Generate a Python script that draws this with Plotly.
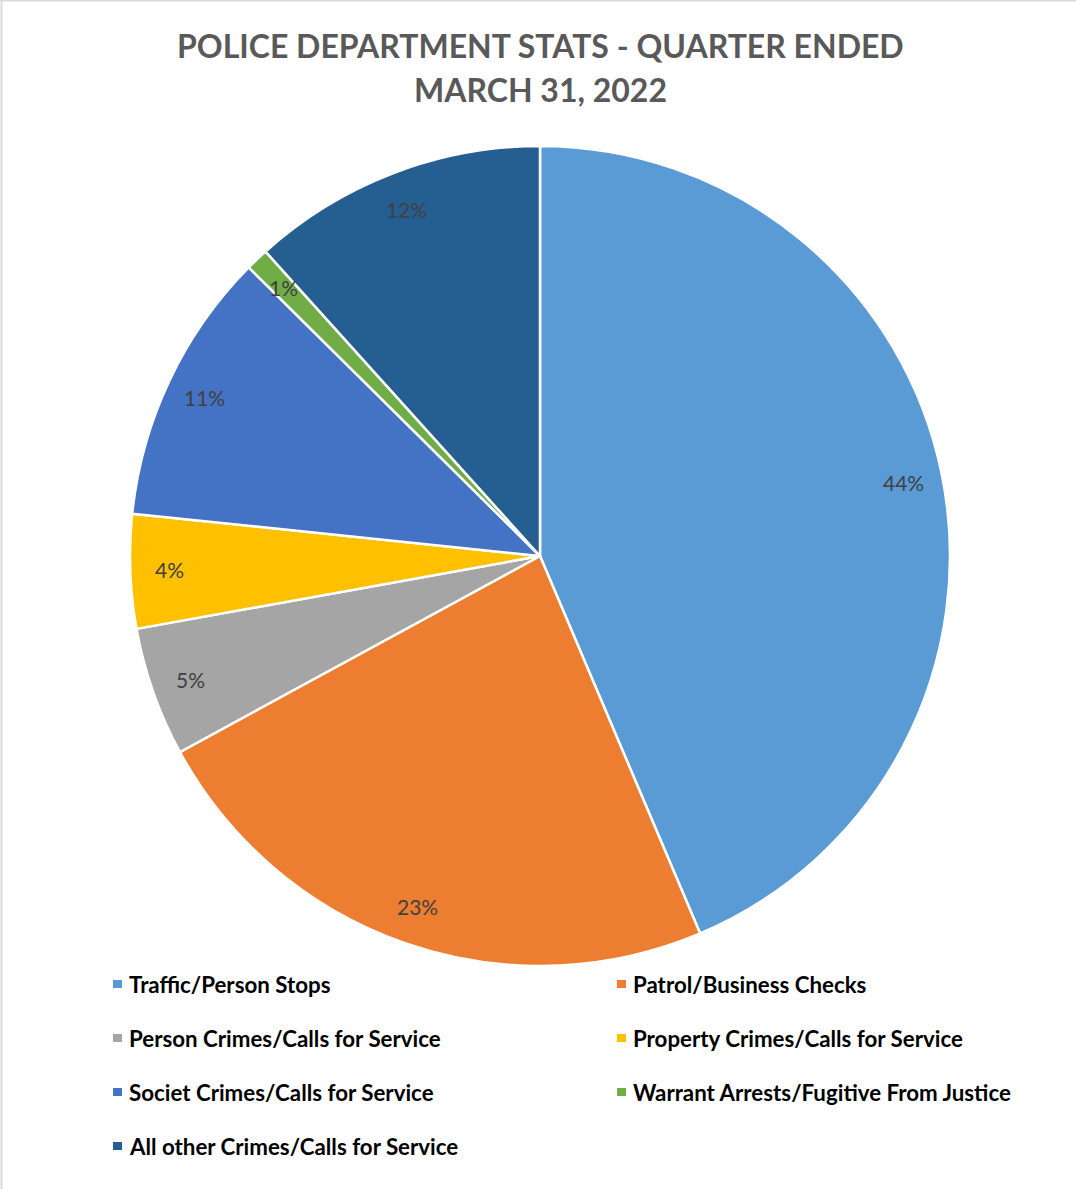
import math
import plotly.graph_objects as go

# Quarterly activity breakdown (share of total, %)
categories = [
    "Traffic/Person Stops",
    "Patrol/Business Checks",
    "Person Crimes/Calls for Service",
    "Property Crimes/Calls for Service",
    "Societ Crimes/Calls for Service",
    "Warrant Arrests/Fugitive From Justice",
    "All other Crimes/Calls for Service",
]
values = [43.7, 23.5, 5.1, 4.5, 10.8, 0.9, 11.7]
colors = ["#5B9BD5", "#ED7D31", "#A5A5A5", "#FFC000", "#4472C4", "#70AD47", "#255E91"]

title_lines = ["POLICE DEPARTMENT STATS - QUARTER ENDED", "MARCH 31, 2022"]

W, H = 1076, 1189
FONT = "Lato"

# Pie geometry in pixels
cx, cy, r = 540, 556, 410


def px(x):
    return x / W


def py(y):
    return 1 - y / H


fig = go.Figure()
fig.add_trace(go.Pie(
    labels=categories,
    values=values,
    sort=False,
    direction="clockwise",
    rotation=0,
    marker=dict(colors=colors, line=dict(color="white", width=2.5)),
    textinfo="none",
    hoverinfo="label+percent",
    showlegend=False,
    domain=dict(x=[px(cx - r), px(cx + r)], y=[py(cy + r), py(cy - r)]),
))

annotations = []

# Percentage labels placed near the outer edge along each slice's bisector
total = sum(values)
cum = 0.0
for v in values:
    mid = (cum + v / 2) / total * 2 * math.pi
    cum += v
    lr = 0.905 * r
    lx = cx + lr * math.sin(mid)
    ly = cy - lr * math.cos(mid)
    annotations.append(dict(
        x=px(lx), y=py(ly), xref="paper", yref="paper",
        text=f"{round(v / total * 100)}%", showarrow=False,
        font=dict(family=FONT, size=21, color="#404040"),
        xanchor="center", yanchor="middle",
    ))

# Title
for i, line in enumerate(title_lines):
    annotations.append(dict(
        x=px(540), y=py(45 + i * 44), xref="paper", yref="paper",
        text=f"<b>{line}</b>", showarrow=False,
        font=dict(family=FONT, size=32, color="#595959"),
        xanchor="center", yanchor="middle",
    ))

# Two-column legend
shapes = []
col_x = [113, 617]
row_y0, row_dy = 984, 54
for i, (name, col) in enumerate(zip(categories, colors)):
    cxi = col_x[i % 2]
    ryi = row_y0 + (i // 2) * row_dy
    shapes.append(dict(
        type="rect", xref="paper", yref="paper",
        x0=px(cxi), x1=px(cxi + 9), y0=py(ryi + 4), y1=py(ryi - 4),
        fillcolor=col, line=dict(width=0),
    ))
    annotations.append(dict(
        x=px(cxi + 14), y=py(ryi), xref="paper", yref="paper",
        text=f"<b>{name}</b>", showarrow=False,
        font=dict(family=FONT, size=22.3, color="#000000"),
        xanchor="left", yanchor="middle",
    ))

# Chart-area border (left and top edges)
shapes.append(dict(type="line", xref="paper", yref="paper",
                   x0=px(1.5), x1=px(1.5), y0=0, y1=1,
                   line=dict(color="#D9D9D9", width=2)))
shapes.append(dict(type="line", xref="paper", yref="paper",
                   x0=0, x1=1, y0=py(0.5), y1=py(0.5),
                   line=dict(color="#D9D9D9", width=2)))

fig.update_layout(
    width=W, height=H,
    margin=dict(l=0, r=0, t=0, b=0),
    paper_bgcolor="white",
    plot_bgcolor="white",
    annotations=annotations,
    shapes=shapes,
)

fig.write_html("out.html")
